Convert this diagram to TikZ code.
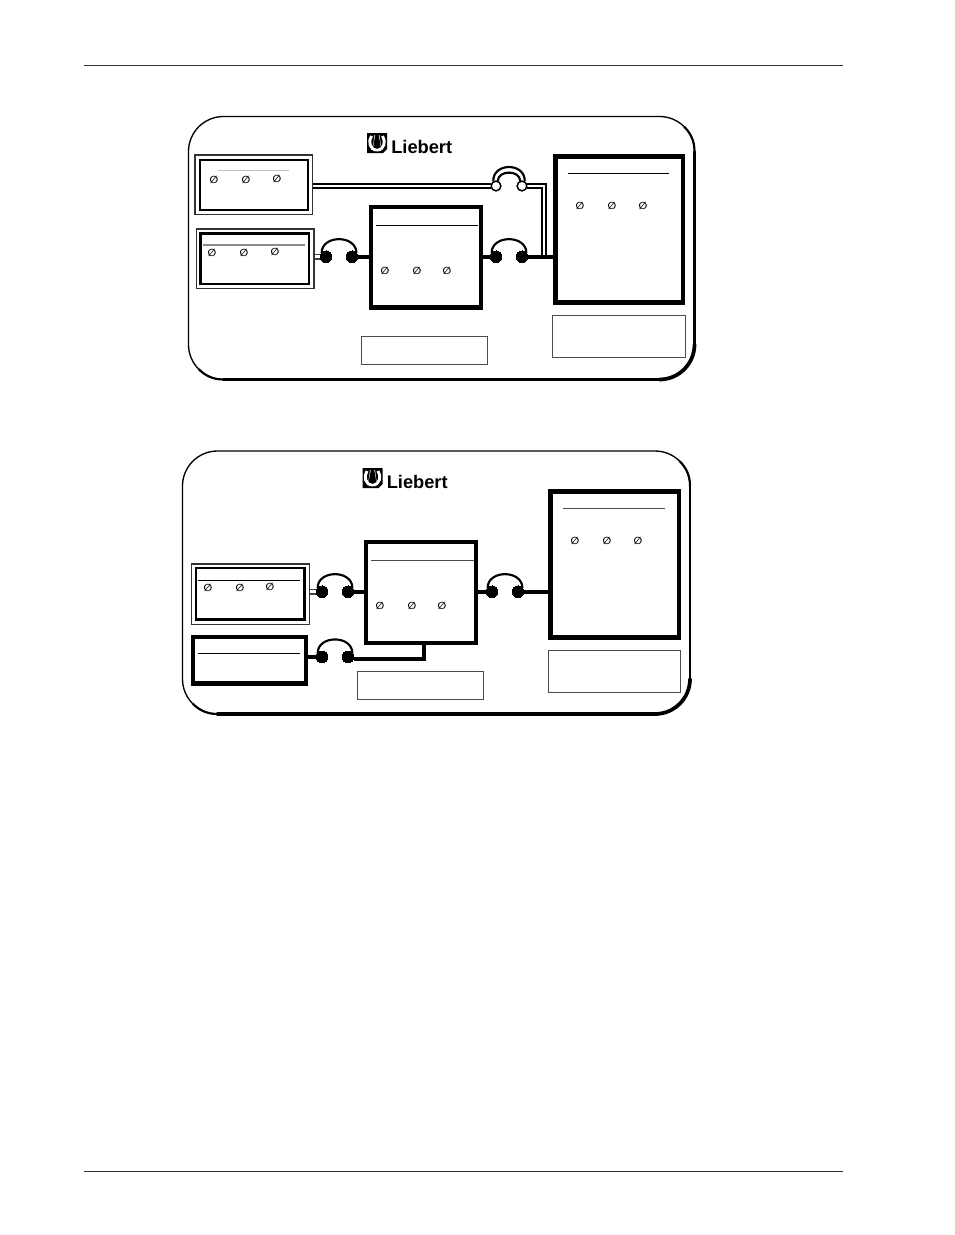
\documentclass[tikz,border=0pt]{standalone}
\usepackage{fontspec}
\setmainfont{Liberation Sans}
\newfontfamily\symf{DejaVu Sans}
\newcommand{\pxbox}[6]{\node[#2,minimum width={(#5-#3)*0.75pt},minimum height={(#6-#4)*0.75pt}] (#1) at ({(#3+#5)/2},{(#4+#6)/2}) {};}
\newcommand{\phases}[3]{\foreach \px/\py in {#1,#2,#3} {\node[phase] at (\px,\py) {∅};}}
\newcommand{\breaker}[5][closed]{%
  \node[#1dot] (#2a) at (#3,#5) {};
  \node[#1dot] (#2b) at (#4,#5) {};
}
\newcommand{\arcover}[1]{\draw[arcline] (#1a.140) .. controls +(0,-18.5) and +(0,-18.5) .. (#1b.40);}
\newcommand{\panelframe}[4]{%
  \draw[line width=1pt,rounded corners=26.25pt] (#1,#2) rectangle (#3,#4);
  \draw[line width=2.2pt,line cap=round] (#3,{#2+35}) -- (#3,{#4-35});
  \draw[line width=2.4pt,line cap=round] ({#3-35},#4) -- ({#1+35},#4);
  \draw[line width=2.8pt,line cap=round] (#3,{#4-35}) .. controls (#3,{#4-15.7}) and ({#3-15.7},#4) .. ({#3-35},#4);
  \draw[line width=1.6pt] ({#3-10.3},{#2+10.3}) .. controls ({#3-4.9},{#2+15.7}) and (#3,{#2+23}) .. (#3,{#2+35});
  \draw[line width=1.6pt] ({#1+10.3},{#4-10.3}) .. controls ({#1+15.7},{#4-4.9}) and ({#1+23},#4) .. ({#1+35},#4);
}
\newcommand{\logo}{%
  \fill[black] (367,133) -- (387,133) -- (387,149) -- (383,153) -- (367,153) -- cycle;
  \draw[white,line width=2.2pt] (371.5,136) .. controls (368,141) and (369.5,150) .. (377,150) .. controls (384.5,150) and (386,141) .. (382.5,136);
  \fill[white] (374.5,135) -- (379.5,135) -- (381,146) -- (373,146) -- cycle;
  \fill[black] (377,145) circle (3.7);
  \fill[black] (373.8,143) -- (375.5,134) -- (378.5,134) -- (380.2,143) -- cycle;
  \node[logotext] (brand) at (391,153) {Liebert};
}
\tikzset{
  x=0.75pt,y=-0.75pt,
  thinbox/.style={draw=black!80,line width=1.2pt,inner sep=0pt,fill=white},
  innerbox/.style={draw=black,line width=2.1pt,inner sep=0pt},
  heavybox/.style={draw=black,line width=3.4pt,inner sep=0pt,fill=white},
  capbox/.style={draw=black!70,line width=0.75pt,inner sep=0pt,fill=white},
  headrule/.style={line width=0.75pt,black!80},
  phase/.style={font=\symf\bfseries\fontsize{7.6pt}{9pt}\selectfont,inner sep=0pt,yshift=-0.5pt},
  closeddot/.style={circle,fill=black,draw=black,minimum size=8.6pt,inner sep=0pt,line width=0pt},
  opendot/.style={circle,fill=white,draw=black,minimum size=7.2pt,inner sep=0pt,line width=1pt},
  logotext/.style={font=\bfseries\fontsize{13.7pt}{14pt}\selectfont,anchor=base west,inner sep=0pt},
  feed/.style={line width=3.3pt,black},
  dbl/.style={draw=black,line width=1.45pt,double=white,double distance=1pt},
  dblthin/.style={draw=black!75,line width=0.9pt,double=white,double distance=2.4pt},
  arcline/.style={line width=1.6pt,black},
}
\begin{document}
\begin{tikzpicture}
\useasboundingbox (0,0) rectangle (954,1235);
\fill[white] (0,0) rectangle (954,1235);
\draw[headrule] (84,65) -- (843,65);
\draw[headrule] (84,1171) -- (843,1171);

% ---------- upper panel ----------
\panelframe{188.5}{116.5}{694.5}{379.5}
\logo
\pxbox{ao}{thinbox}{195.2}{154.8}{312.3}{214.3}
\pxbox{ai}{innerbox}{200}{160}{308}{210}
\draw[black!25,line width=0.6pt] (218,170) -- (289,170);
\phases{214/179}{246/179}{277/178}
\pxbox{bo}{thinbox}{196.5}{228.8}{313.7}{288.6}
\pxbox{bi}{innerbox}{200.7}{233.3}{309}{284}
\draw[black!45,line width=1pt] (203,245) -- (305,245);
\phases{212/252}{244/252}{275/251}
\pxbox{c}{heavybox}{371}{207}{481}{307.7}
\draw[black,line width=0.7pt] (376,225) -- (478,225);
\phases{385/270}{417/270}{447/270}
\pxbox{r}{heavybox}{555.7}{156.3}{683}{302.7}
\draw[black,line width=0.7pt] (568,173) -- (669,173);
\phases{580/205}{612/205}{643/205}
\pxbox{capc}{capbox}{361.5}{336}{487.5}{364}
\pxbox{capr}{capbox}{552.5}{315.5}{685}{357}

\coordinate (bypassdrop) at (544,186);
\coordinate (bypassend) at (544,256.7);
\breaker{p}{326}{352}{256.7}
\breaker{q}{496}{522}{256.7}
\breaker[open]{s}{496}{522}{186}
\draw[dbl] (ao.east |- sa) -- (sa);
\draw[dbl] (sb) -- (bypassdrop) -- (bypassend);
\draw[dblthin] (bo.east |- pa) -- (pa);
\draw[feed] (pb) -- (c.west |- pb);
\draw[feed] (c.east |- qa) -- (qa);
\draw[feed] (qb) -- (r.west |- qb);
\node[closeddot] at (pa) {};
\arcover{p}
\arcover{q}
\draw[arcline] (sa.120) .. controls +(-0.5,-19) and +(0.5,-19) .. (sb.60);
\draw[arcline] (sa.70) .. controls +(0,-11) and +(0,-11) .. (sb.110);
\node[opendot] at (sa) {};
\node[opendot] at (sb) {};

% ---------- lower panel ----------
\panelframe{182.5}{451}{690}{714}
\begin{scope}[shift={(-4.5,335)}]
\logo
\end{scope}
\pxbox{do}{thinbox}{191.5}{563.8}{309.5}{624.3}
\pxbox{di}{innerbox}{196}{568}{304.5}{619.5}
\draw[black,line width=0.7pt] (198,580.5) -- (300,580.5);
\phases{208/587}{240/587}{270/586}
\pxbox{e}{heavybox}{193}{637}{306}{683.3}
\draw[black,line width=0.7pt] (198,653) -- (300,653);
\pxbox{f}{heavybox}{366}{542}{476}{643}
\draw[black!70,line width=0.7pt] (371,560.5) -- (474,560.5);
\phases{380/605}{412/605}{442/605}
\pxbox{g}{heavybox}{550.5}{491.5}{679}{637.5}
\draw[black!70,line width=0.7pt] (563,508) -- (665,508);
\phases{575/540}{607/540}{638/540}
\pxbox{capf}{capbox}{357.5}{671}{483}{699}
\pxbox{capg}{capbox}{548}{650.5}{680.5}{692}

\coordinate (returnbend) at (423.5,659);
\breaker{t}{322}{348}{591.7}
\breaker{u}{322}{348}{657}
\breaker{v}{492}{518}{591.7}
\draw[dblthin] (do.east |- ta) -- (ta);
\draw[feed] (tb) -- (f.west |- tb);
\draw[feed] (f.east |- va) -- (va);
\draw[feed] (vb) -- (g.west |- vb);
\draw[feed] (e.east |- ua) -- (ua);
\draw[line width=2.3pt] (ub.east |- returnbend) -- (returnbend);
\draw[line width=3pt] (returnbend) ++(0,1.5) -- (f.south -| returnbend);
\node[closeddot] at (ta) {};
\arcover{t}
\arcover{u}
\arcover{v}
\end{tikzpicture}
\end{document}
